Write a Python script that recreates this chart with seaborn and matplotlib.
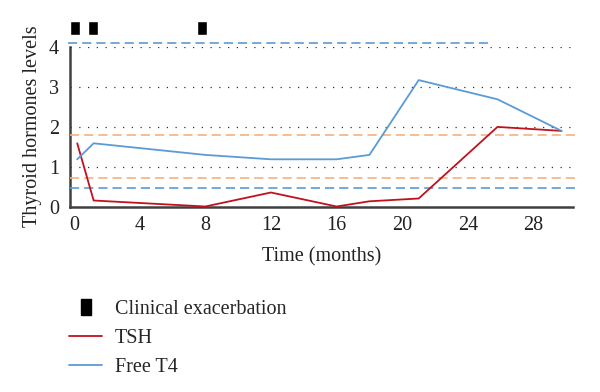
import matplotlib
matplotlib.use("Agg")
import matplotlib.pyplot as plt
import seaborn as sns
import pandas as pd
from matplotlib.lines import Line2D

# ---- data ----
months = [0.2, 1.2, 8, 12, 16, 18, 21, 25.8, 29.7]
tsh = [1.58, 0.15, 0.0, 0.35, 0.0, 0.13, 0.2, 1.99, 1.89]
free_t4 = [1.18, 1.58, 1.29, 1.18, 1.18, 1.29, 3.16, 2.68, 1.89]
exacerbations = [0.05, 1.15, 7.8]
t4_range = [0.47, 4.1]
tsh_range = [0.72, 1.78]
x_ticks = [0, 4, 8, 12, 16, 20, 24, 28]
y_ticks = [0, 1, 2, 3, 4]

RED = "#c0121c"
BLUE = "#5b9bd5"
ORANGE = "#f4b183"
FS = 14.5

sns.set_style("white")
plt.rcParams["font.family"] = ["Liberation Serif", "DejaVu Serif"]
plt.rcParams["font.size"] = FS

fig = plt.figure(figsize=(6.0, 3.92), dpi=100)
ax = fig.add_axes([70 / 600, 1 - 206.5 / 392, 503 / 600, 160 / 392])

df = pd.DataFrame({"month": months, "TSH": tsh, "Free T4": free_t4})
long = df.melt("month", var_name="hormone", value_name="level")
sns.lineplot(data=long, x="month", y="level", hue="hormone",
             palette={"TSH": RED, "Free T4": BLUE}, ax=ax, legend=False,
             linewidth=1.3, zorder=4)

ax.set_xlim(-0.24, 30.4)
ax.set_ylim(0, 4)
ax.set_xticks(x_ticks)
ax.set_yticks(y_ticks)
ax.tick_params(axis="both", length=0, labelsize=FS, colors="#222222")
ax.tick_params(axis="x", pad=7)
ax.tick_params(axis="y", pad=8)

# dotted grid
for yv in y_ticks[1:]:
    ax.axhline(yv, color="#333333", linestyle=(0, (1, 6)), linewidth=0.9, zorder=1)

# reference ranges (dashed)
dash = (0, (5.5, 3))
ax.hlines(t4_range[1], -0.37, 25.2, colors=BLUE, linestyles=dash, linewidth=1.2, clip_on=False, zorder=3)
ax.hlines(t4_range[0], -0.24, 30.6, colors=BLUE, linestyles=dash, linewidth=1.2, clip_on=False, zorder=3)
for yv in tsh_range:
    ax.hlines(yv, -0.24, 30.6, colors=ORANGE, linestyles=dash, linewidth=1.2, clip_on=False, zorder=3)

# clinical exacerbation markers above the plot
ax.bar(exacerbations, [0.35] * len(exacerbations), bottom=4.29, width=0.6,
       color="black", clip_on=False, zorder=5)

for s in ["top", "right"]:
    ax.spines[s].set_visible(False)
for s in ["left", "bottom"]:
    ax.spines[s].set_color("#404040")
    ax.spines[s].set_linewidth(1.8)

ax.set_xlabel("Time (months)", fontsize=FS, labelpad=9, color="#222222")
ax.set_ylabel("Thyroid hormones levels", fontsize=FS, labelpad=5, color="#222222")

rect = [(-0.27, -0.5), (0.27, -0.5), (0.27, 0.5), (-0.27, 0.5), (-0.27, -0.5)]
handles = [
    Line2D([], [], marker=rect, markersize=12, linestyle="none", color="black"),
    Line2D([], [], color=RED, linewidth=1.3),
    Line2D([], [], color=BLUE, linewidth=1.3),
]
labels = ["Clinical exacerbation", "TSH", "Free T4"]
fig.legend(handles, labels, loc="upper left", bbox_to_anchor=(69 / 600, 1 - 300 / 392),
           frameon=False, borderpad=0, borderaxespad=0, handlelength=1.65,
           handletextpad=0.62, labelspacing=0.5, fontsize=FS)

fig.savefig("out.png", dpi=100, facecolor="white")
